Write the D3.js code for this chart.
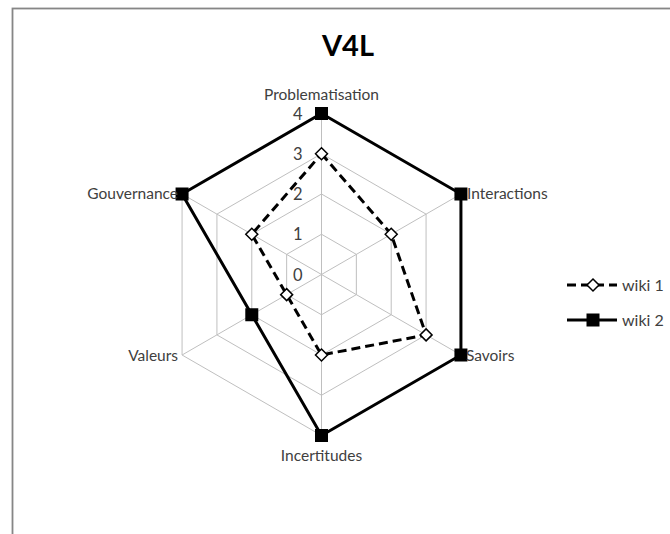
<!DOCTYPE html>
<html>
<head>
<meta charset="utf-8">
<script src="https://cdn.jsdelivr.net/npm/d3@7"></script>
<style>
html,body{margin:0;padding:0;background:#fff;}
svg{display:block;}
text{font-family:Lato,"Open Sans",sans-serif;fill:#404040;}
</style>
</head>
<body>
<svg id="chart" width="670" height="534"></svg>
<script>
const axesNames = ["Problematisation","Interactions","Savoirs","Incertitudes","Valeurs","Gouvernance"];
const wiki1 = [3,2,3,2,1,2];
const wiki2 = [4,4,4,4,2,4];
const seriesNames = ["wiki 1","wiki 2"];
const tickValues = [0,1,2,3,4];
const title = "V4L";

const svg = d3.select("#chart");
const cx = 321.5, cy = 274.5, R = 161;

svg.append("rect").attr("x",12.5).attr("y",8.5).attr("width",700).attr("height",600)
  .attr("fill","#fff").attr("stroke","#868686").attr("stroke-width",1.8);

svg.append("text").attr("x",348).attr("y",56).attr("text-anchor","middle")
  .style("font-size","29px").style("font-weight","bold").style("fill","#000").text(title);

const r = d3.scaleLinear().domain([0,4]).range([0,R]);
const ang = d3.scalePoint().domain(axesNames).range([0, 2*Math.PI*(5/6)]);
function pt(name, v){ const a = ang(name) - Math.PI/2; return [cx + r(v)*Math.cos(a), cy + r(v)*Math.sin(a)]; }

const g = svg.append("g");
tickValues.filter(t=>t>0).forEach(t=>{
  g.append("path").attr("d", d3.line()(axesNames.map(n=>pt(n,t))) + "Z")
    .attr("fill","none").attr("stroke","#bfbfbf").attr("stroke-width",1);
});
axesNames.forEach(n=>{
  const p = pt(n,4);
  g.append("line").attr("x1",cx).attr("y1",cy).attr("x2",p[0]).attr("y2",p[1])
    .attr("stroke","#bfbfbf").attr("stroke-width",1);
});
tickValues.forEach(t=>{
  g.append("text").attr("x",cx-19).attr("y",cy - r(t) + 6).attr("text-anchor","end")
    .style("font-size","16.5px").style("fill","#404040").text(t);
});

const line = d3.line().curve(d3.curveLinearClosed);
const p1 = axesNames.map((n,i)=>pt(n,wiki1[i]));
const p2 = axesNames.map((n,i)=>pt(n,wiki2[i]));
g.append("path").attr("d",line(p1)).attr("fill","none").attr("stroke","#000")
  .attr("stroke-width",3).attr("stroke-dasharray","9,5");
g.append("path").attr("d",line(p2)).attr("fill","none").attr("stroke","#000")
  .attr("stroke-width",3).attr("stroke-linejoin","miter");

function drawDiamond(sel, x, y){
  sel.append("path").attr("d","M0,-6L6,0L0,6L-6,0Z").attr("transform",`translate(${x},${y})`)
    .attr("fill","#fff").attr("stroke","#000").attr("stroke-width",1.5);
}
function drawSquare(sel, x, y){
  sel.append("rect").attr("x",x-6.5).attr("y",y-6.5).attr("width",13).attr("height",13).attr("fill","#000");
}
p1.forEach(p=>drawDiamond(g,p[0],p[1]));
p2.forEach(p=>drawSquare(g,p[0],p[1]));

const labelCfg = {
  "Problematisation": {dx:0, dy:-14, anchor:"middle"},
  "Interactions": {dx:6, dy:5, anchor:"start"},
  "Savoirs": {dx:5, dy:6, anchor:"start"},
  "Incertitudes": {dx:0, dy:25, anchor:"middle"},
  "Valeurs": {dx:-4, dy:6, anchor:"end"},
  "Gouvernance": {dx:-4, dy:5, anchor:"end"}
};
axesNames.forEach(n=>{
  const p = pt(n,4), c = labelCfg[n];
  g.append("text").attr("x",p[0]+c.dx).attr("y",p[1]+c.dy).attr("text-anchor",c.anchor)
    .style("font-size","15.5px").style("fill","#404040").text(n);
});

const leg = svg.append("g");
const ly = [285, 320];
seriesNames.forEach((s,i)=>{
  const y = ly[i];
  leg.append("line").attr("x1",567).attr("x2",617).attr("y1",y).attr("y2",y)
    .attr("stroke","#000").attr("stroke-width",3).attr("stroke-dasharray", i===0 ? "9,5" : null);
  if(i===0) drawDiamond(leg,593,y); else drawSquare(leg,593,y);
  leg.append("text").attr("x",622).attr("y",y+5.5).style("font-size","16px").style("fill","#404040").text(s);
});
</script>
</body>
</html>
